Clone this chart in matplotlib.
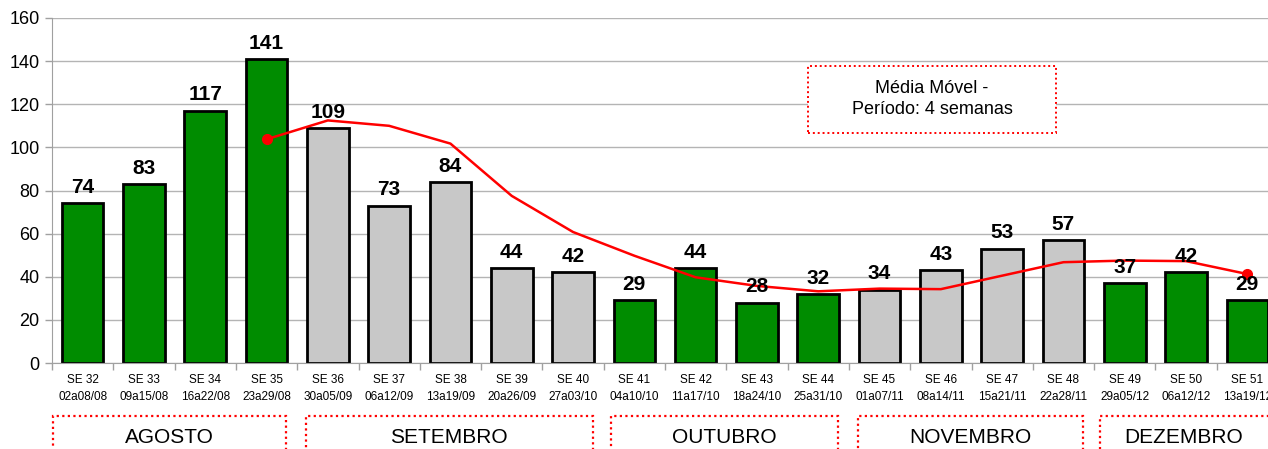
import matplotlib
matplotlib.use("Agg")
import matplotlib.pyplot as plt
from matplotlib.patches import Rectangle
from matplotlib.transforms import blended_transform_factory

# Data
weeks = ["SE 32", "SE 33", "SE 34", "SE 35", "SE 36", "SE 37", "SE 38", "SE 39", "SE 40",
         "SE 41", "SE 42", "SE 43", "SE 44", "SE 45", "SE 46", "SE 47", "SE 48", "SE 49",
         "SE 50", "SE 51"]
periods = ["02a08/08", "09a15/08", "16a22/08", "23a29/08", "30a05/09", "06a12/09", "13a19/09",
           "20a26/09", "27a03/10", "04a10/10", "11a17/10", "18a24/10", "25a31/10", "01a07/11",
           "08a14/11", "15a21/11", "22a28/11", "29a05/12", "06a12/12", "13a19/12"]
cases = [74, 83, 117, 141, 109, 73, 84, 44, 42, 29, 44, 28, 32, 34, 43, 53, 57, 37, 42, 29]
bar_colors = ["#008C00"] * 4 + ["#C8C8C8"] * 5 + ["#008C00"] * 4 + ["#C8C8C8"] * 4 + ["#008C00"] * 3
# moving average (4 weeks), starts at SE 35
ma_start = 3
moving_avg = [103.75, 112.5, 110.0, 101.75, 77.5, 60.75, 49.75, 39.75, 35.75, 33.25,
              34.5, 34.25, 40.5, 46.75, 47.5, 47.25, 41.25]
months = ["AGOSTO", "SETEMBRO", "OUTUBRO", "NOVEMBRO", "DEZEMBRO"]
month_first = [0, 4, 9, 13, 17]
month_last = [3, 8, 12, 16, 19]

plt.rcParams['font.family'] = ['Liberation Sans', 'DejaVu Sans']

fig = plt.figure(figsize=(12.68, 4.49), dpi=100)
ax = fig.add_axes([52 / 1268, 86 / 449, 1226 / 1268, 345 / 449])

x = list(range(len(cases)))
ax.bar(x, cases, width=0.68, color=bar_colors, edgecolor="black", linewidth=2, zorder=2)
for xi, v in zip(x, cases):
    ax.annotate(str(v), (xi, v), xytext=(0, 4.5), textcoords="offset points",
                ha="center", va="bottom", fontsize=15, fontweight="bold", zorder=4)

ma_x = list(range(ma_start, ma_start + len(moving_avg)))
ax.plot(ma_x, moving_avg, color="red", lw=1.8, zorder=3)
ax.plot([ma_x[0], ma_x[-1]], [moving_avg[0], moving_avg[-1]], "o", color="red",
        ms=7, zorder=3)

ax.set_xlim(-0.5, len(cases) - 0.5)
ax.set_ylim(0, 160)
ax.set_yticks(range(0, 161, 20))
ax.yaxis.grid(True, color="#b4b4b4", lw=1)
ax.set_axisbelow(True)
ax.tick_params(axis="y", labelsize=13, color="#a0a0a0", length=5, width=1, pad=4)

ax.set_xticks(x)
ax.set_xticklabels([w + "\n" + p for w, p in zip(weeks, periods)], fontsize=8.5,
                   linespacing=1.5)
ax.set_xticks([i - 0.5 for i in range(len(cases) + 1)], minor=True)
ax.tick_params(axis="x", which="major", length=0, pad=8)
ax.tick_params(axis="x", which="minor", length=5, color="#a0a0a0", width=1)

for s in ["top", "right"]:
    ax.spines[s].set_visible(False)
for s in ["left", "bottom"]:
    ax.spines[s].set_color("#a0a0a0")

# month boxes under the axis
trans = blended_transform_factory(ax.transData, ax.transAxes)
left_pad = [0.02, 0.14, 0.12, 0.15, 0.10]
right_pad = [0.18, 0.18, 0.18, 0.18, -0.3]
for name, a, b, lp, rp in zip(months, month_first, month_last, left_pad, right_pad):
    x0 = a - 0.5 + lp
    x1 = b + 0.5 - rp
    ax.add_patch(Rectangle((x0, -0.39), x1 - x0, 0.235, transform=trans, fill=False,
                           edgecolor="red", lw=1.6, ls=(0, (1, 1.5)), clip_on=False))
    xc = (x0 + x1) / 2 if rp > 0 else (x0 + b + 0.5 - 0.18) / 2
    ax.text(xc, -0.215, name, transform=trans, ha="center", va="center", fontsize=15)

# moving average note
ax.add_patch(Rectangle((756 / 1226, (449 - 133 - 86) / 345), 248 / 1226, 67 / 345,
                       transform=ax.transAxes, facecolor="white", edgecolor="red", lw=1.4,
                       ls=(0, (1, 1.5)), zorder=5))
ax.text(880 / 1226, (449 - 99 - 86) / 345, "Média Móvel -\nPeríodo: 4 semanas",
        transform=ax.transAxes, ha="center", va="center", fontsize=13, zorder=6,
        linespacing=1.25)

fig.savefig("out.png", dpi=100)
